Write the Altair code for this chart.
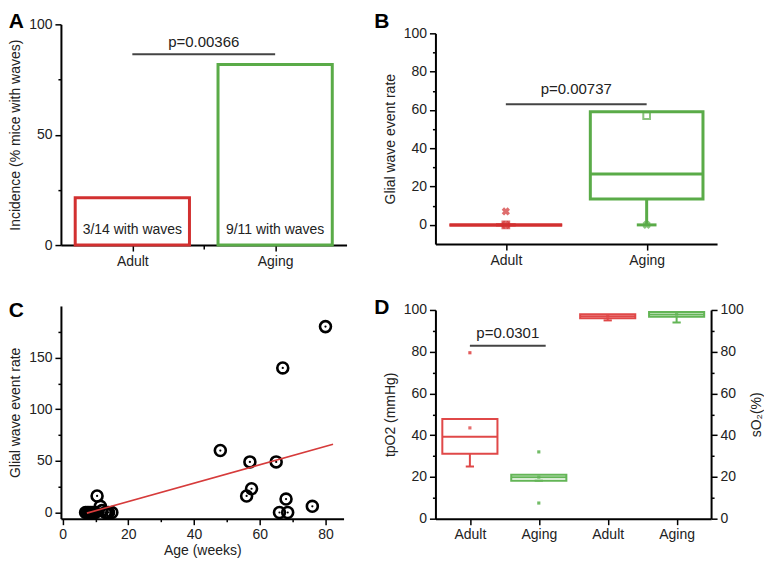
import altair as alt
import pandas as pd

FONT = "Liberation Sans"
INK = "#222222"
RED = "#d23030"
GREEN = "#5aab48"
RED_D = "#e04848"
GREEN_D = "#63b556"
PLINE = "#444444"

# ---------------- Panel A : incidence ----------------
a_pos = [1, 2]
a_incidence = [21.4, 81.8]
a_note = ["3/14 with waves", "9/11 with waves"]
a_color = [RED, GREEN]
a_p_label = ["p=0.00366"]
a_p_from, a_p_to, a_p_y, a_p_text_y = [1.0], [2.0], [86.5], [91.8]
a_note_y = 6.8

# ---------------- Panel B : event rate boxes ----------------
b_pos = [1, 2]
b_q1 = [0, 13.5]
b_median = [0, 26.6]
b_q3 = [0, 59]
b_whisk_lo = [0, 0]
b_mean = [0, 57]
b_color = [RED, GREEN]
b_x_pos = [1, 1, 2]
b_x_val = [7, 0, 0]
b_x_color = [RED, RED, GREEN]
b_p_label = ["p=0.00737"]
b_p_from, b_p_to, b_p_y, b_p_text_y = [1.0], [2.0], [63], [71]

# ---------------- Panel C : age scatter ----------------
c_age = [7, 7.5, 8, 8.5, 9, 9.5, 10, 10.5, 11.5, 12, 13, 13.5, 14, 15,
         48, 56, 57, 57.5, 65, 66, 67, 68, 68.5, 76, 80]
c_rate = [0, 0, 0, 0, 0, 0, 0, 16, 6, 2, 0, 0, 0, 0,
          60, 16, 49, 23, 49, 0, 140, 13, 0, 6, 180]
c_fit_age = [7.4, 82.3]
c_fit_rate = [-0.6, 66]

# ---------------- Panel D : tpO2 / sO2 ----------------
d_pos = [1, 2, 3, 4]
d_q1 = [31.1, 18.2, 96.0, 96.8]
d_median = [39.2, 19.9, 97.0, 97.8]
d_q3 = [47.8, 21.0, 98.0, 99.0]
d_whisk_lo = [25.0, 18.2, 95.0, 94.0]
d_mean = [43.5, 19.9, 97.0, 98.0]
d_color = [RED_D, GREEN_D, RED_D, GREEN_D]
d_side = ["left", "left", "right", "right"]
d_pt_pos = [1, 2, 2]
d_pt_val = [79.5, 32, 7.5]
d_pt_color = [RED_D, GREEN_D, GREEN_D]
d_p_label = ["p=0.0301"]
d_p_from, d_p_to, d_p_y, d_p_text_y = [1.0], [2.1], [82.8], [88.8]


def lin_axis(values, major, title, orient="left", **extra):
    kw = dict(values=values, orient=orient,
              labelExpr=f"({major}) ? datum.label : ''",
              tickSize={"condition": {"test": major, "value": 6}, "value": 3},
              labelFlush=False, labelOverlap=False, grid=False, titlePadding=6)
    kw.update(extra)
    kw["title"] = title
    return alt.Axis(**kw)


def cat_axis(values, labels, minor=()):
    expr = " : ".join(f"datum.value === {v} ? '{l}'" for v, l in zip(values, labels)) + " : ''"
    allv = list(values) + list(minor)
    return alt.Axis(values=allv, labelExpr=expr, title=None, labelFlush=False,
                    labelOverlap=False, grid=False,
                    tickSize={"condition": {"test": "datum.value % 1 === 0", "value": 6}, "value": 4})


def letter(t, dx=0, dy=15):
    return alt.TitleParams(t, anchor="start", frame="bounds", fontSize=21, fontWeight="bold",
                           font=FONT, color="black", dx=dx, dy=dy, offset=0)


# ======== Panel A ========
xsA = alt.Scale(domain=[0.5, 2.5], nice=False, zero=False)
axA = cat_axis([1, 2], ["Adult", "Aging"], minor=[1.5])
ysA = alt.Scale(domain=[0, 100], nice=False)
ayA = lin_axis([0, 25, 50, 75, 100], "datum.value % 50 === 0", "Incidence (% mice with waves)")


def xA(f):
    return alt.X(f"{f}:Q", scale=xsA, axis=axA)


def yA(f):
    return alt.Y(f"{f}:Q", scale=ysA, axis=ayA)


dfA = pd.DataFrame({"pos": a_pos, "val": a_incidence, "note": a_note, "color": a_color})
dfAp = pd.DataFrame({"x1": a_p_from, "x2": a_p_to, "y": a_p_y, "ty": a_p_text_y, "label": a_p_label})
baseA = alt.Chart(dfA).transform_calculate(lo="datum.pos - 0.4", hi="datum.pos + 0.4", zero="0",
                                          ny=str(a_note_y))
barsA = baseA.mark_rect(fillOpacity=0, strokeWidth=3).encode(
    x=xA("lo"), x2="hi:Q", y=yA("val"), y2="zero:Q", stroke=alt.Stroke("color:N", scale=None))
notesA = baseA.mark_text(font=FONT, fontSize=14, color=INK).encode(x=xA("pos"), y=yA("ny"), text="note:N")
pA = alt.Chart(dfAp).mark_rule(color=PLINE, strokeWidth=2).encode(x=xA("x1"), x2="x2:Q", y=yA("y"))
ptA = alt.Chart(dfAp).transform_calculate(mid="(datum.x1 + datum.x2) / 2").mark_text(
    font=FONT, fontSize=15, color=INK).encode(x=xA("mid"), y=yA("ty"), text="label:N")
A = alt.layer(barsA, notesA, pA, ptA).properties(width=286, height=221, title=letter("A"))

# ======== Panel B ========
xsB = alt.Scale(domain=[0.5, 2.5], nice=False, zero=False)
axB = cat_axis([1, 2], ["Adult", "Aging"])
ysB = alt.Scale(domain=[-10, 100], nice=False, range=[220, 9])
ayB = lin_axis(list(range(0, 101, 10)), "datum.value % 20 === 0", "Glial wave event rate")


def xB(f):
    return alt.X(f"{f}:Q", scale=xsB, axis=axB)


def yB(f):
    return alt.Y(f"{f}:Q", scale=ysB, axis=ayB)


dfB = pd.DataFrame({"pos": b_pos, "q1": b_q1, "med": b_median, "q3": b_q3, "wlo": b_whisk_lo,
                    "mean": b_mean, "color": b_color})
dfBx = pd.DataFrame({"pos": b_x_pos, "val": b_x_val, "color": b_x_color})
dfBp = pd.DataFrame({"x1": b_p_from, "x2": b_p_to, "y": b_p_y, "ty": b_p_text_y, "label": b_p_label})
baseB = alt.Chart(dfB).transform_calculate(lo="datum.pos - 0.4", hi="datum.pos + 0.4",
                                          clo="datum.pos - 0.07", chi="datum.pos + 0.07")
strokeB = alt.Stroke("color:N", scale=None)
colB = alt.Color("color:N", scale=None)
boxB = baseB.mark_rect(fillOpacity=0, strokeWidth=3).encode(
    x=xB("lo"), x2="hi:Q", y=yB("q1"), y2="q3:Q", stroke=strokeB)
medB = baseB.mark_rule(strokeWidth=3).encode(x=xB("lo"), x2="hi:Q", y=yB("med"), color=colB)
whB = baseB.mark_rule(strokeWidth=3).encode(x=xB("pos"), y=yB("wlo"), y2="q1:Q", color=colB)
capB = baseB.mark_rule(strokeWidth=3).encode(x=xB("clo"), x2="chi:Q", y=yB("wlo"), color=colB)
meanB = baseB.mark_point(shape="square", filled=False, size=45, strokeWidth=2).encode(
    x=xB("pos"), y=yB("mean"), color=colB)
xmB = alt.Chart(dfBx).mark_point(shape="cross", angle=45, filled=True, size=70).encode(
    x=xB("pos"), y=yB("val"), color=colB)
pB = alt.Chart(dfBp).mark_rule(color=PLINE, strokeWidth=2).encode(x=xB("x1"), x2="x2:Q", y=yB("y"))
ptB = alt.Chart(dfBp).transform_calculate(mid="(datum.x1 + datum.x2) / 2").mark_text(
    font=FONT, fontSize=15, color=INK).encode(x=xB("mid"), y=yB("ty"), text="label:N")
B = alt.layer(boxB, medB, whB, capB, meanB, xmB, pB, ptB).properties(
    width=282, height=220, title=letter("B", dx=-9, dy=8))

# ======== Panel C ========
xsC = alt.Scale(domain=[-0.5, 85.5], nice=False, zero=False)
axC = lin_axis(list(range(0, 81, 10)), "datum.value % 20 === 0", "Age (weeks)", orient="bottom",
               titlePadding=2)
ysC = alt.Scale(domain=[-6, 200], nice=False)
ayC = lin_axis(list(range(0, 176, 25)), "datum.value % 50 === 0", "Glial wave event rate")
dfC = pd.DataFrame({"age": c_age, "rate": c_rate})
dfCf = pd.DataFrame({"age": c_fit_age, "rate": c_fit_rate})
xC = alt.X("age:Q", scale=xsC, axis=axC)
yC = alt.Y("rate:Q", scale=ysC, axis=ayC)
ringC = alt.Chart(dfC).mark_point(shape="circle", filled=False, size=120, strokeWidth=2.6,
                                  color="black", opacity=1).encode(x=xC, y=yC)
dotC = alt.Chart(dfC).mark_point(shape="circle", filled=True, size=5, color="black", opacity=1).encode(x=xC, y=yC)
fitC = alt.Chart(dfCf).mark_line(color="#d63b3b", strokeWidth=1.6).encode(x=xC, y=yC)
C = alt.layer(ringC, dotC, fitC).properties(width=283, height=213, title=letter("C"))

# ======== Panel D ========
xsD = alt.Scale(domain=[0.5, 4.5], nice=False, zero=False)
axD = cat_axis([1, 2, 3, 4], ["Adult", "Aging", "Adult", "Aging"])
ysDL = alt.Scale(domain=[0, 100], nice=False, range=[213, 4])
ysDR = alt.Scale(domain=[0, 100], nice=False, range=[213, 4])
ayDL = lin_axis(list(range(0, 101, 10)), "datum.value % 20 === 0", "tpO2 (mmHg)")
ayDR = lin_axis(list(range(0, 101, 10)), "datum.value % 20 === 0", "sO₂(%)", orient="right",
                titleAngle=270, titleBaseline="top")


def xD(f):
    return alt.X(f"{f}:Q", scale=xsD, axis=axD)


dfD = pd.DataFrame({"pos": d_pos, "q1": d_q1, "med": d_median, "q3": d_q3, "wlo": d_whisk_lo,
                    "mean": d_mean, "color": d_color, "side": d_side})
dfDpt = pd.DataFrame({"pos": d_pt_pos, "val": d_pt_val, "color": d_pt_color})
dfDp = pd.DataFrame({"x1": d_p_from, "x2": d_p_to, "y": d_p_y, "ty": d_p_text_y, "label": d_p_label})


def d_layers(side, ys, ay):
    def yD(f):
        return alt.Y(f"{f}:Q", scale=ys, axis=ay)
    base = alt.Chart(dfD).transform_filter(f"datum.side === '{side}'").transform_calculate(
        lo="datum.pos - 0.4", hi="datum.pos + 0.4", clo="datum.pos - 0.06", chi="datum.pos + 0.06")
    col = alt.Color("color:N", scale=None)
    box = base.mark_rect(fillOpacity=0, strokeWidth=2).encode(
        x=xD("lo"), x2="hi:Q", y=yD("q1"), y2="q3:Q", stroke=alt.Stroke("color:N", scale=None))
    med = base.mark_rule(strokeWidth=2).encode(x=xD("lo"), x2="hi:Q", y=yD("med"), color=col)
    wh = base.mark_rule(strokeWidth=2).encode(x=xD("pos"), y=yD("wlo"), y2="q1:Q", color=col)
    cap = base.mark_rule(strokeWidth=2).encode(x=xD("clo"), x2="chi:Q", y=yD("wlo"), color=col)
    mean = base.mark_square(size=10, opacity=0.8).encode(x=xD("pos"), y=yD("mean"), color=col)
    layers = [box, med, wh, cap, mean]
    if side == "left":
        pts = alt.Chart(dfDpt).mark_square(size=10, opacity=0.9).encode(x=xD("pos"), y=yD("val"), color=col)
        pl = alt.Chart(dfDp).mark_rule(color=PLINE, strokeWidth=2).encode(x=xD("x1"), x2="x2:Q", y=yD("y"))
        pt = alt.Chart(dfDp).transform_calculate(mid="(datum.x1 + datum.x2) / 2").mark_text(
            font=FONT, fontSize=15, color=INK).encode(x=xD("mid"), y=yD("ty"), text="label:N")
        layers += [pts, pl, pt]
    return alt.layer(*layers)


D = alt.layer(d_layers("left", ysDL, ayDL), d_layers("right", ysDR, ayDR)).resolve_scale(
    y="independent").properties(width=276, height=213, title=letter("D", dx=-9))

chart = alt.concat(A, B, C, D, columns=2, align="each",
                   spacing={"row": 29, "column": 27}).properties(
    padding={"top": 3, "left": 0, "right": 0, "bottom": 0}).configure_axis(
    domainColor="black", domainWidth=2, tickColor="black", tickWidth=1.5,
    labelFont=FONT, labelFontSize=14, labelColor=INK, labelPadding=3,
    titleFont=FONT, titleFontSize=14, titleColor=INK, titleFontWeight="normal"
).configure_view(stroke=None)

chart.save("out.html", embed_options={"renderer": "svg", "actions": False})
